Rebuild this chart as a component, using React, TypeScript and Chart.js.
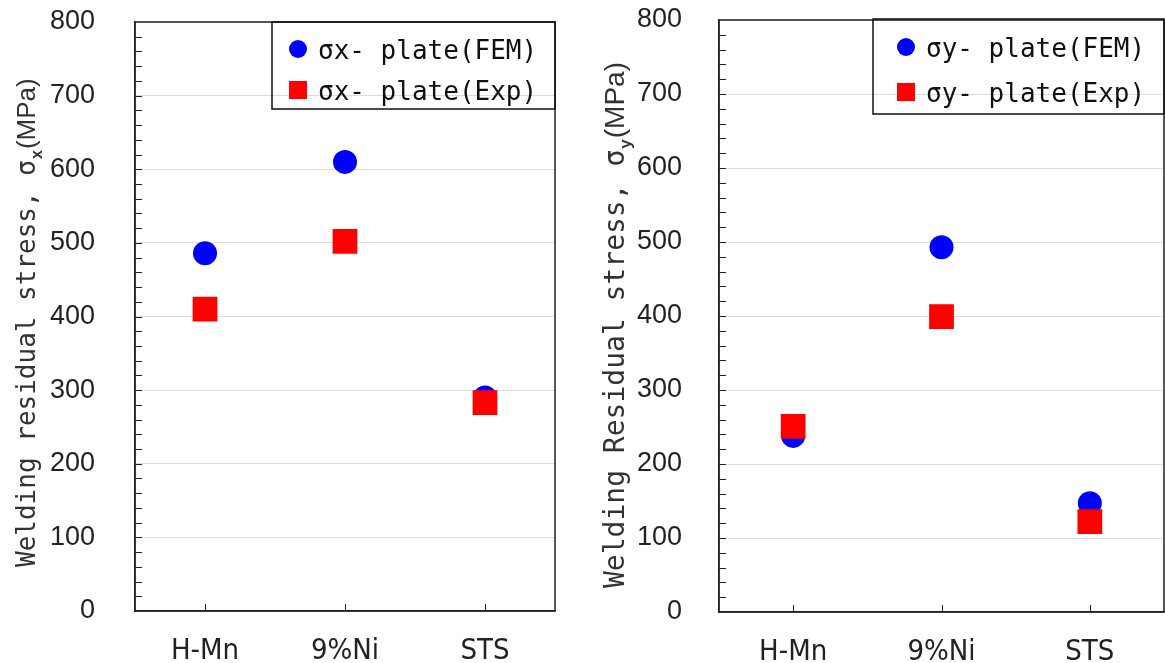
import React, { useEffect, useRef } from "react";
import { Chart, registerables } from "chart.js";

Chart.register(...registerables);

// ---------- data ----------
const categories = ["H-Mn", "9%Ni", "STS"];
const sigmaXFem = [486, 610, 290];
const sigmaXExp = [410, 502, 283];
const sigmaYFem = [238, 493, 147];
const sigmaYExp = [251, 399, 122];
const legendX = ["σx- plate(FEM)", "σx- plate(Exp)"];
const legendY = ["σy- plate(FEM)", "σy- plate(Exp)"];
const yMin = 0;
const yMax = 800;
const yStep = 100;
const yMinorStep = 20;
const titleLeft = ["Welding residual stress, σ", "x", "(MPa)"];
const titleRight = ["Welding Residual stress, σ", "y", "(MPa)"];

const BLUE = "#0000ff";
const RED = "#ff0000";
const MONO = "'DejaVu Sans Mono', monospace";
const SANS = "'Liberation Sans', Arial, sans-serif";
const NARROW = "'Liberation Sans Narrow', 'DejaVu Sans Condensed', 'Liberation Sans', sans-serif";

const CW = 580;
const CH = 663;

type Panel = {
  left: number;
  right: number;
  top: number;
  bottom: number;
  tickPad: number;
  fem: number[];
  exp: number[];
  legend: string[];
  legendBox: [number, number, number, number];
  legendMarkerX: number;
  legendTextX: number;
  legendRows: [number, number];
  title: string[];
  titleX: number;
  titleY: number;
  titleSize: number;
};

const decorPlugin = {
  id: "decor",
  afterDraw(chart: any, _args: any, opts: any) {
    const p: Panel = opts.panel;
    if (!p) return;
    const ctx = chart.ctx as CanvasRenderingContext2D;
    const a = chart.chartArea;
    const ys = chart.scales.y;
    const xs = chart.scales.x;
    ctx.save();
    // frame
    ctx.strokeStyle = "#222";
    ctx.lineWidth = 1.5;
    ctx.strokeRect(a.left, a.top, a.right - a.left, a.bottom - a.top);
    // minor ticks
    ctx.lineWidth = 1;
    ctx.beginPath();
    for (let v = yMin + yMinorStep; v < yMax; v += yMinorStep) {
      const py = Math.round(ys.getPixelForValue(v)) + 0.5;
      ctx.moveTo(a.left, py);
      ctx.lineTo(a.left + 7, py);
    }
    categories.forEach((_c, i) => {
      const px = Math.round(xs.getPixelForValue(i)) + 0.5;
      ctx.moveTo(px, a.bottom);
      ctx.lineTo(px, a.bottom - 7);
    });
    ctx.stroke();

    // y title
    ctx.save();
    ctx.translate(p.titleX, p.titleY);
    ctx.rotate(-Math.PI / 2);
    ctx.fillStyle = "#333";
    ctx.textAlign = "left";
    ctx.textBaseline = "alphabetic";
    let cx = 0;
    const parts = [
      { text: p.title[0], font: `${p.titleSize}px ${MONO}`, dy: 0 },
      { text: p.title[1], font: `bold ${Math.round(p.titleSize * 0.62)}px ${SANS}`, dy: 7 },
      { text: p.title[2], font: `${p.titleSize}px ${SANS}`, dy: 0 },
    ];
    parts.forEach((pt) => {
      ctx.font = pt.font;
      ctx.fillText(pt.text, cx, pt.dy);
      cx += ctx.measureText(pt.text).width + 1;
    });
    ctx.restore();

    // legend
    const [bx, by, bw, bh] = p.legendBox;
    ctx.strokeStyle = "#111";
    ctx.lineWidth = 1.5;
    ctx.strokeRect(bx, by, bw, bh);
    ctx.font = `26px ${MONO}`;
    ctx.textBaseline = "middle";
    ctx.textAlign = "left";
    chart.data.datasets.forEach((ds: any, i: number) => {
      const ry = p.legendRows[i];
      ctx.fillStyle = ds.backgroundColor;
      if (ds.pointStyle === "circle") {
        ctx.beginPath();
        ctx.ellipse(p.legendMarkerX, ry - 3, 9, 9, 0, 0, Math.PI * 2);
        ctx.fill();
      } else {
        ctx.fillRect(p.legendMarkerX - 9, ry - 12, 18, 18);
      }
      ctx.fillStyle = "#111";
      ctx.fillText(ds.label, p.legendTextX, ry);
    });
    ctx.restore();
  },
};

function zeroPad(s: any) {
  s.paddingTop = 0;
  s.paddingBottom = 0;
  s.paddingLeft = 0;
  s.paddingRight = 0;
}

function makeConfig(p: Panel, canvasH: number): any {
  return {
    type: "line",
    data: {
      labels: categories,
      datasets: [
        {
          label: p.legend[0],
          data: p.fem,
          showLine: false,
          pointStyle: "circle",
          pointRadius: 12,
          backgroundColor: BLUE,
          borderColor: BLUE,
          borderWidth: 0,
          order: 1,
        },
        {
          label: p.legend[1],
          data: p.exp,
          showLine: false,
          pointStyle: "rect",
          pointRadius: 17.5,
          backgroundColor: RED,
          borderColor: RED,
          borderWidth: 0,
          order: 0,
        },
      ],
    },
    options: {
      animation: false,
      responsive: false,
      devicePixelRatio: 1,
      layout: {
        autoPadding: false,
        padding: { top: p.top, right: CW - p.right, left: 0, bottom: 0 },
      },
      plugins: {
        legend: { display: false },
        tooltip: { enabled: false },
        decor: { panel: p },
      },
      scales: {
        x: {
          type: "category",
          offset: true,
          afterFit: (s: any) => {
            s.height = canvasH - p.bottom;
            zeroPad(s);
          },
          grid: { display: false },
          border: { display: true, color: "#222", width: 1.5 },
          ticks: {
            color: "#222",
            padding: 15,
            maxRotation: 0,
            font: { family: NARROW, size: 29 },
          },
        },
        y: {
          type: "linear",
          min: yMin,
          max: yMax,
          afterFit: (s: any) => {
            s.width = p.left;
            zeroPad(s);
          },
          grid: { color: "#dcdcdc", lineWidth: 1, drawTicks: false },
          border: { display: true, color: "#222", width: 1.5 },
          ticks: {
            stepSize: yStep,
            color: "#222",
            padding: p.tickPad,
            font: { family: SANS, size: 27 },
          },
        },
      },
    },
    plugins: [decorPlugin],
  };
}

const leftPanel: Panel = {
  left: 135,
  right: 555,
  top: 22,
  bottom: 611,
  tickPad: 40,
  fem: sigmaXFem,
  exp: sigmaXExp,
  legend: legendX,
  legendBox: [272, 22, 283, 87],
  legendMarkerX: 298,
  legendTextX: 318,
  legendRows: [52, 93],
  title: titleLeft,
  titleX: 35,
  titleY: 567,
  titleSize: 26,
};

const rightPanel: Panel = {
  left: 134,
  right: 579,
  top: 20,
  bottom: 612,
  tickPad: 37,
  fem: sigmaYFem,
  exp: sigmaYExp,
  legend: legendY,
  legendBox: [288, 19, 291, 95],
  legendMarkerX: 321,
  legendTextX: 341,
  legendRows: [50, 95],
  title: titleRight,
  titleX: 39,
  titleY: 588,
  titleSize: 28,
};

function ChartPanel({ panel, x }: { panel: Panel; x: number }) {
  const ref = useRef<HTMLCanvasElement | null>(null);
  useEffect(() => {
    if (!ref.current) return;
    const chart = new Chart(ref.current, makeConfig(panel, CH));
    return () => chart.destroy();
  }, [panel]);
  return (
    <canvas
      ref={ref}
      width={CW}
      height={CH}
      style={{ position: "absolute", left: x, top: 0, width: CW, height: CH }}
    />
  );
}

export default function App() {
  return (
    <div
      style={{
        position: "fixed",
        left: 0,
        top: 0,
        width: 1165,
        height: 663,
        background: "#fff",
        overflow: "hidden",
      }}
    >
      <ChartPanel panel={leftPanel} x={0} />
      <ChartPanel panel={rightPanel} x={585} />
    </div>
  );
}
